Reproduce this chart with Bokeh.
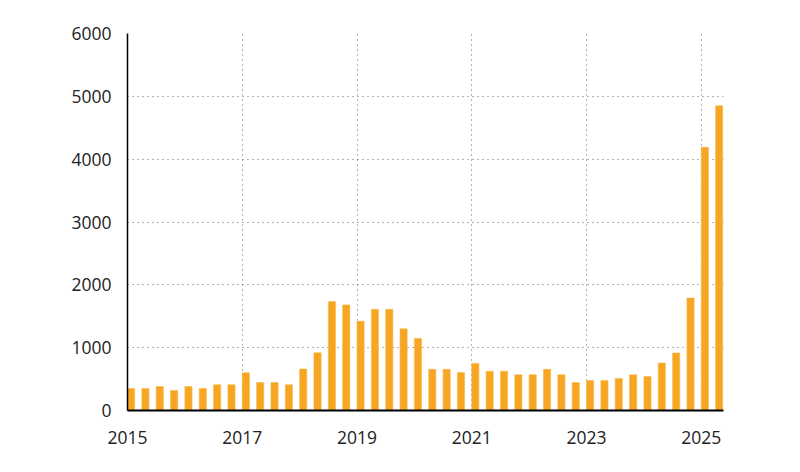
from bokeh.plotting import figure
from bokeh.models import ColumnDataSource, FixedTicker, Range1d
from bokeh.embed import file_html
from bokeh.resources import INLINE

# Quarterly values, 2015 Q1 .. 2025 Q2
quarters = [f"{y} Q{q}" for y in range(2015, 2026) for q in range(1, 5)][:42]
values = [350, 350, 380, 320, 380, 350, 410, 410,
          600, 445, 445, 410, 660, 920, 1735, 1680,
          1420, 1610, 1610, 1300, 1145, 656, 656, 603,
          750, 625, 625, 570, 570, 656, 570, 445,
          476, 476, 508, 570, 540, 755, 915, 1790,
          4190, 4850]
tick_years = [2015, 2017, 2019, 2021, 2023, 2025]
y_ticks = [0, 1000, 2000, 3000, 4000, 5000, 6000]

idx = list(range(len(values)))
src = ColumnDataSource(dict(x=[i + 0.25 for i in idx], top=values, q=quarters))

p = figure(width=784, height=456, output_backend="svg", toolbar_location=None,
           x_range=Range1d(0, 41.55), y_range=Range1d(0, 6000),
           min_border_left=127, min_border_right=61, min_border_top=33, min_border_bottom=46)
p.outline_line_color = None

p.vbar(x="x", top="top", width=0.5, source=src, fill_color="#f6a623", line_color="#f8b94a", line_width=0.6)

tick_pos = [(y - 2015) * 4 for y in tick_years]
p.xaxis.ticker = FixedTicker(ticks=tick_pos)
p.xaxis.major_label_overrides = {t: str(y) for t, y in zip(tick_pos, tick_years)}
p.yaxis.ticker = FixedTicker(ticks=y_ticks)

for ax in (p.xaxis, p.yaxis):
    ax.major_tick_line_color = None
    ax.minor_tick_line_color = None
    ax.major_label_text_font = "Open Sans"
    ax.major_label_text_font_size = "17.5px"
    ax.major_label_text_color = "#222222"
    ax.axis_line_color = "black"
p.xaxis.axis_line_width = 2
p.yaxis.axis_line_width = 1.5
p.xaxis.major_label_standoff = 14
p.yaxis.major_label_standoff = 10

p.xgrid.ticker = FixedTicker(ticks=tick_pos[1:])
p.ygrid.ticker = FixedTicker(ticks=y_ticks[1:])
for g in (p.xgrid, p.ygrid):
    g.grid_line_color = "#666666"
    g.grid_line_dash = "1 4"
    g.grid_line_width = 1

open("out.html", "w").write(file_html(p, INLINE))
